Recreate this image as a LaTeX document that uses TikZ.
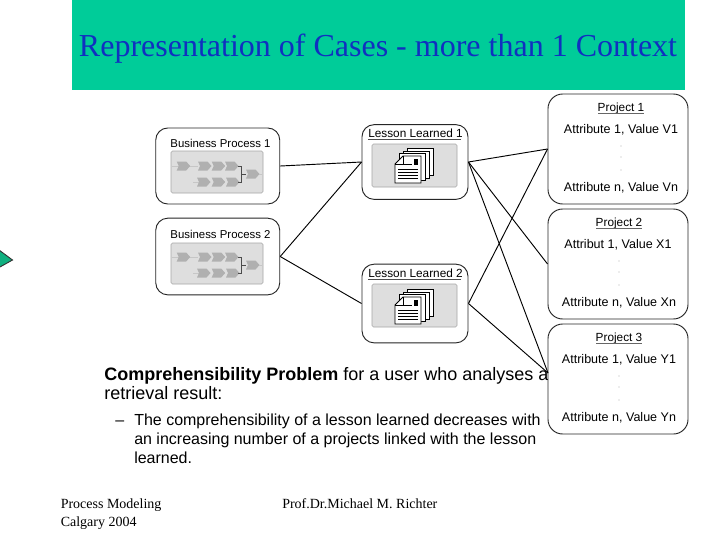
\documentclass[tikz,border=0pt]{standalone}
\usepackage{fontspec}
\setmainfont{Liberation Serif}
\setsansfont{Liberation Sans}
\definecolor{band}{HTML}{00CC99}
\definecolor{titleblue}{HTML}{1030C0}
\definecolor{innergray}{HTML}{DEDEDE}
\definecolor{chev}{HTML}{B0B0B0}
\definecolor{tri}{HTML}{10B080}
\newcommand{\pxsz}[1]{\fontsize{#1}{#1}}
\newcommand{\chevron}[2]{\fill[chev] (#1,#2-4.5) -- (#1+9.5,#2-4.5) -- (#1+13.5,#2) -- (#1+9.5,#2+4.5) -- (#1,#2+4.5) -- (#1+2,#2) -- cycle;}
\newcommand{\procicon}[2]{%
\begin{scope}[shift={(#1,#2)}]
\draw[gray!45] (1,15) -- (27,15);
\draw[gray!45] (22,31) -- (30,31);
\chevron{5.7}{15}\chevron{27}{15}\chevron{40.7}{15}\chevron{54}{15}
\chevron{26}{31}\chevron{40.7}{31}\chevron{55}{31}
\chevron{75}{23}
\draw[gray!45] (88,23) -- (91,23);
\draw[black!70,line width=.5pt] (67,15) -- (70,15) -- (70,31) -- (67,31);
\draw[black!70,line width=.5pt] (70,23) -- (75,23);
\end{scope}}
\newcommand{\docicon}[2]{%
\begin{scope}[shift={(#1,#2)}]
\foreach \o in {3,2,1}{
\draw[fill=white,line width=.6pt] (\o*4,-\o*2.4) rectangle +(26,27);}
\draw[fill=white,line width=.7pt] (8,0) -- (26,0) -- (26,27) -- (0,27) -- (0,8) -- cycle;
\draw[line width=.6pt] (0,8) -- (8,8) -- (8,0);
\draw[line width=.6pt] (9,8) -- (17,8);
\fill (18.5,3) rectangle (23,9);
\foreach \y in {13,16,19,22}{\draw[line width=.6pt] (3,\y) -- (23,\y);}
\end{scope}}
\tikzset{
  x=0.75pt,y=-0.75pt,
  roundbox/.style={draw=black!85,fill=white,rounded corners=9pt,line width=.7pt,inner sep=0pt},
  link/.style={draw=black,line width=.7pt},
  inner box/.style={draw=gray!70,fill=innergray,rounded corners=1.2pt,line width=.4pt},
  boxlabel/.style={font=\sffamily\pxsz{8.55}\selectfont,inner sep=0pt,anchor=base},
  headlabel/.style={font=\sffamily\pxsz{8.85}\selectfont,inner sep=0pt,anchor=base},
  attrlabel/.style={font=\sffamily\pxsz{9.4}\selectfont,inner sep=0pt,anchor=base},
  bodytext/.style={font=\sffamily\pxsz{12}\selectfont,inner sep=0pt,anchor=base west},
  leadtext/.style={font=\sffamily\pxsz{13.5}\selectfont,inner sep=0pt,anchor=base west},
  foottext/.style={font=\pxsz{10.5}\selectfont,inner sep=0pt,anchor=base west},
  dotmark/.style={fill=gray!60,inner sep=0pt,minimum size=.8pt,circle}
}
\begin{document}
\begin{tikzpicture}
\useasboundingbox (0,0) rectangle (720,540);
\fill[band] (72,0) rectangle (685,90);
\node[font=\pxsz{24}\selectfont,text=titleblue,inner sep=0pt,anchor=base] (title) at (378,56) {Representation of Cases - more than 1 Context};
\draw[black!80,fill=tri,line width=.7pt] (-1,250) -- (12.5,260) -- (-1,267.5) -- cycle;
% body text
\node[leadtext] (b1) at (104,380) {\textbf{Comprehensibility Problem} for a user who analyses a};
\node[leadtext] (b2) at (104,399) {retrieval result:};
\node[bodytext] (d) at (115,425) {–};
\node[bodytext] (c1) at (134,425) {The comprehensibility of a lesson learned decreases with};
\node[bodytext] (c2) at (134,444) {an increasing number of a projects linked with the lesson};
\node[bodytext] (c3) at (134,463) {learned.};
\node[foottext] (f1) at (60.5,508) {Process Modeling};
\node[foottext] (f2) at (60.5,526) {Calgary 2004};
\node[foottext] (f3) at (282,508) {Prof.Dr.Michael M. Richter};
% boxes
\node[roundbox,minimum width=93pt,minimum height=57pt] (bp1) at (217.75,166) {};
\node[roundbox,minimum width=93pt,minimum height=57.5pt] (bp2) at (217.75,256.5) {};
\node[roundbox,minimum width=79.5pt,minimum height=56pt] (ll1) at (415,162) {};
\node[roundbox,minimum width=79.5pt,minimum height=59pt] (ll2) at (415,303.5) {};
\node[roundbox,minimum width=105pt,minimum height=82.5pt,rounded corners=11pt] (p1) at (618,149) {};
\node[roundbox,minimum width=105pt,minimum height=82.5pt,rounded corners=11pt] (p2) at (618,264) {};
\node[roundbox,minimum width=105pt,minimum height=82.5pt,rounded corners=11pt] (p3) at (618,379) {};
\coordinate (p3in) at (548,373);
% connectors
\draw[link] (bp1.east) -- (ll1.west);
\draw[link] (bp2.east) -- (ll1.west);
\draw[link] (bp2.east) -- (ll2.west);
\draw[link] (ll1.east) -- (p1.west);
\draw[link] (ll1.east) -- (p2.west);
\draw[link] (ll1.east) -- (p3in);
\draw[link] (ll2.east) -- (p1.west);
\draw[link] (ll2.east) -- (p3in);
% business process contents
\node[boxlabel] (bp1t) at (220.5,147) {Business Process 1};
\draw[inner box] (171,151) rectangle (263,193);
\procicon{171}{151}
\node[boxlabel] (bp2t) at (220.5,238) {Business Process 2};
\draw[inner box] (171,243) rectangle (263,284);
\procicon{171}{242}
% lessons
\node[headlabel] (ll1t) at (415.5,137) {Lesson Learned 1};
\draw[black!70,line width=.4pt] (368,139.5) -- (461,139.5);
\draw[inner box] (372,144) rectangle (457,187);
\docicon{395}{156}
\node[headlabel] (ll2t) at (415.5,277) {Lesson Learned 2};
\draw[black!70,line width=.4pt] (368,279.5) -- (461,279.5);
\draw[inner box] (372,284) rectangle (457,327);
\docicon{395}{297}
% projects
\node[headlabel] (p1t) at (621,111) {Project 1};
\draw[black!60,line width=.4pt] (598,113) -- (644,113);
\node[attrlabel] (p1a) at (621,133) {Attribute 1, Value V1};
\node[attrlabel] (p1b) at (621,191) {Attribute n, Value Vn};
\node[headlabel] (p2t) at (619,226) {Project 2};
\draw[black!60,line width=.4pt] (596,228) -- (642,228);
\node[attrlabel] (p2a) at (618,248) {Attribut 1, Value X1};
\node[attrlabel] (p2b) at (619,306) {Attribute n, Value Xn};
\node[headlabel] (p3t) at (619,341) {Project 3};
\draw[black!60,line width=.4pt] (596,343) -- (642,343);
\node[attrlabel] (p3a) at (619,363) {Attribute 1, Value Y1};
\node[attrlabel] (p3b) at (619,421) {Attribute n, Value Yn};
\foreach \n/\x/\y in {a/621/146,b/621/157,c/621/170,d/619/261,e/619/272,f/619/285,g/619/376,h/619/387,i/619/400}{
  \node[dotmark] (dot\n) at (\x,\y) {};}
\end{tikzpicture}
\end{document}
